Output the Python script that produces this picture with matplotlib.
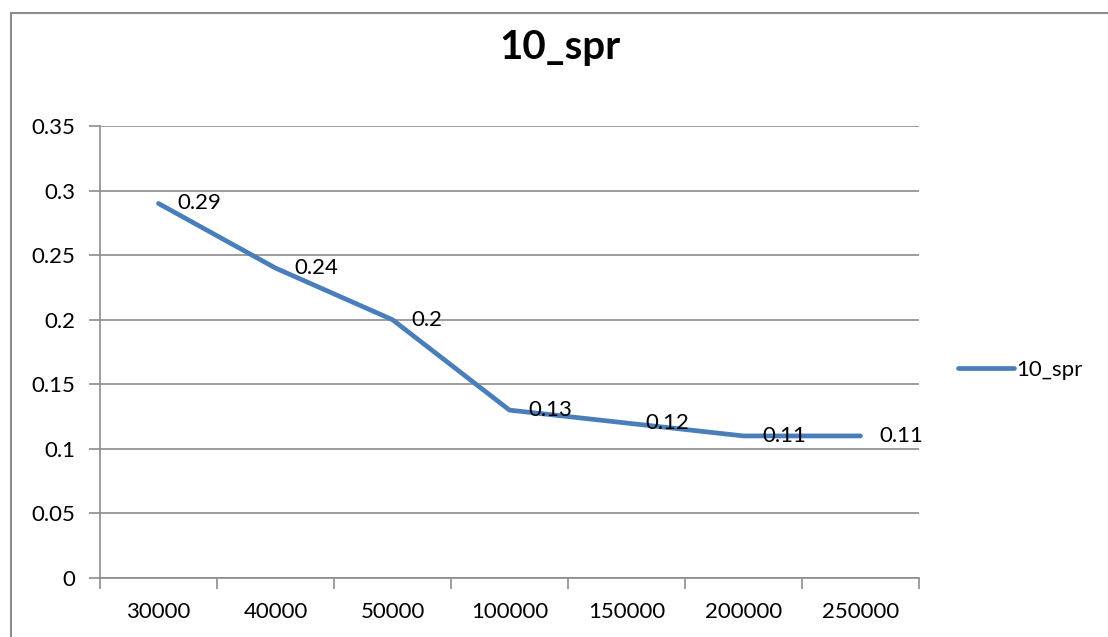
import matplotlib
matplotlib.use("Agg")
import matplotlib.pyplot as plt
from matplotlib.lines import Line2D
from matplotlib.patches import Rectangle

categories = ["30000", "40000", "50000", "100000", "150000", "200000", "250000"]
values = [0.29, 0.24, 0.2, 0.13, 0.12, 0.11, 0.11]
labels = ["0.29", "0.24", "0.2", "0.13", "0.12", "0.11", "0.11"]
series_name = "10_spr"
yticks = [0, 0.05, 0.1, 0.15, 0.2, 0.25, 0.3, 0.35]
ytick_labels = ["0", "0.05", "0.1", "0.15", "0.2", "0.25", "0.3", "0.35"]

plt.rcParams['font.family'] = ['Lato', 'DejaVu Sans']

W, H = 1108, 637
fig = plt.figure(figsize=(W / 100, H / 100), dpi=100)

# outer chart frame (cropped on right and bottom)
fig.patches.append(Rectangle((11 / W, -0.1), 1.2, (H - 13) / H + 0.1,
                             transform=fig.transFigure, fill=False,
                             edgecolor="#8c8c8c", linewidth=1.5))

left, right, top, bottom = 100, 919, 126, 578
ax = fig.add_axes([left / W, 1 - bottom / H, (right - left) / W, (bottom - top) / H])

FS = 16
x = list(range(len(categories)))
line_color = "#4a7ebb"
ax.plot(x, values, color=line_color, linewidth=3.4, solid_capstyle="round",
        solid_joinstyle="round", zorder=3)

for xi, v, lab in zip(x, values, labels):
    ax.annotate(lab, (xi, v), xytext=(19, 0), textcoords="offset pixels",
                ha="left", va="center", fontsize=FS, color="black", zorder=4)

ax.set_xlim(-0.5, len(categories) - 0.5)
ax.set_ylim(0, 0.35)
ax.set_yticks(yticks)
ax.set_yticklabels(ytick_labels, fontsize=FS)
ax.set_xticks([i - 0.5 for i in range(len(categories) + 1)], minor=False)
ax.set_xticklabels([""] * (len(categories) + 1))
ax.set_xticks(x, minor=True)
ax.set_xticklabels(categories, minor=True, fontsize=FS)
ax.tick_params(axis="x", which="minor", length=0, pad=17)
ax.tick_params(axis="x", which="major", length=8, color="#8c8c8c", width=1.2, direction="out")
ax.tick_params(axis="y", length=8, color="#8c8c8c", width=1.2, direction="out", pad=10)

ax.grid(axis="y", color="#8c8c8c", linewidth=1.2)
ax.set_axisbelow(True)
for s in ["top", "right"]:
    ax.spines[s].set_visible(False)
for s in ["left", "bottom"]:
    ax.spines[s].set_color("#8c8c8c")
    ax.spines[s].set_linewidth(1.2)

fig.text(560 / W, 1 - 47 / H, series_name, ha="center", va="center",
         fontsize=29, fontweight="bold")

handle = Line2D([], [], color=line_color, linewidth=3.4, solid_capstyle="round")
fig.legend([handle], [series_name], loc="center left",
           bbox_to_anchor=(947 / W, 1 - 370 / H), frameon=False,
           fontsize=FS, handlelength=2.5, handletextpad=0.1, borderpad=0)

fig.savefig("out.png", dpi=100)
